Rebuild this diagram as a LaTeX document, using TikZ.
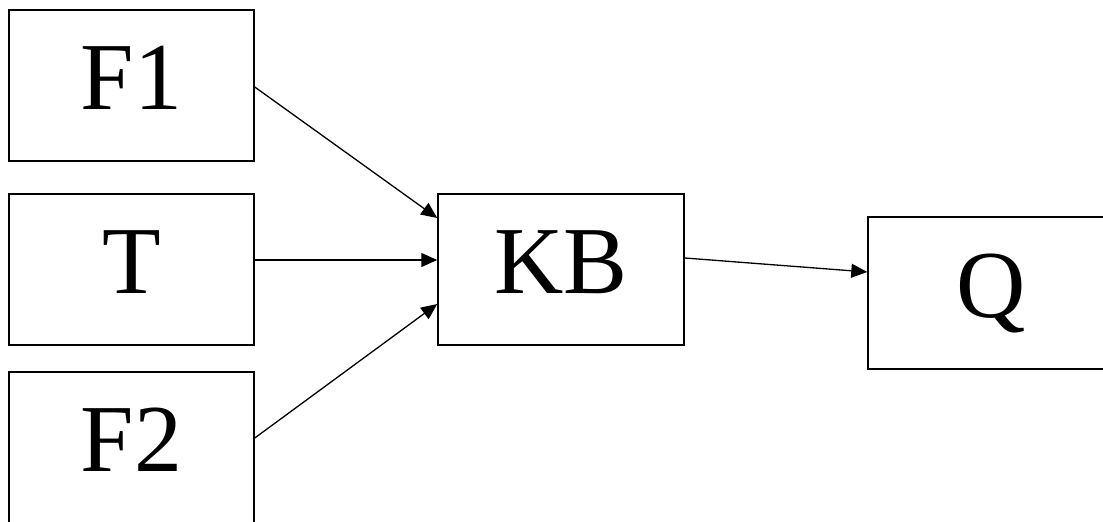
\documentclass[tikz,border=0pt]{standalone}
\usepackage{fontspec}
\setmainfont{Liberation Serif}
\usetikzlibrary{arrows.meta}
\begin{document}
\begin{tikzpicture}[x=1pt,y=-1pt,
  box/.style={draw=black,line width=1.5pt,rectangle,inner sep=0pt,
    minimum width=245pt,minimum height=151pt,
    font=\fontsize{96}{96}\selectfont,text height=63pt,text depth=15pt},
  conn/.style={line width=1.3pt,-{Triangle[length=16pt,width=14pt]}}]
\useasboundingbox (0,0) rectangle (1103,522);
\clip (0,0) rectangle (1103,522);
\node[box] (F1) at (131.5,85.5) {F1};
\node[box] (T) at (131.5,269.5) {T};
\node[box] (F2) at (131.5,447.5) {F2};
\node[box,minimum width=246pt] (KB) at (561,269.5) {KB};
\node[box,minimum width=246pt,minimum height=152pt] (Q) at (991,293) {Q};
\draw[conn] ([yshift=-1.5pt]F1.east) -- ([yshift=51.5pt]KB.west);
\draw[conn] ([yshift=9.5pt]T.east) -- ([yshift=9.5pt]KB.west);
\draw[conn] ([yshift=9.5pt]F2.east) -- ([yshift=-34.5pt]KB.west);
\draw[conn] ([yshift=11.5pt]KB.east) -- ([yshift=21pt]Q.west);
\end{tikzpicture}
\end{document}
